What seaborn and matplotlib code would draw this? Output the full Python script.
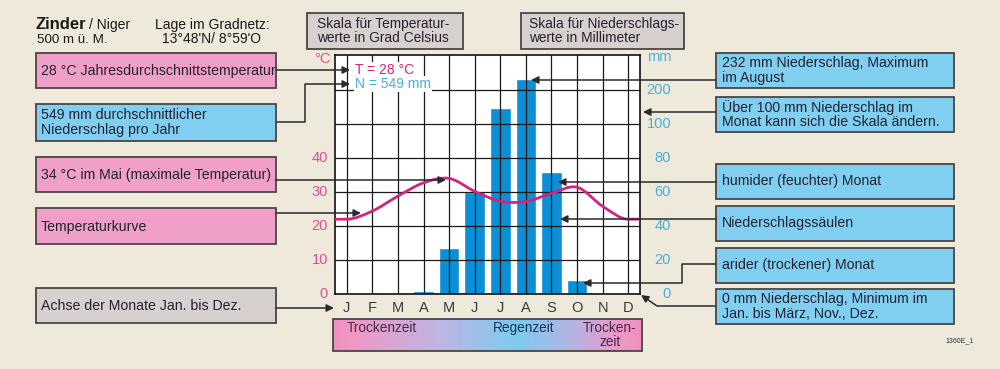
import numpy as np
import matplotlib
matplotlib.use("Agg")
import matplotlib.pyplot as plt
import seaborn as sns
from matplotlib.patches import Rectangle
from matplotlib.path import Path
from matplotlib.patches import PathPatch
from matplotlib.colors import LinearSegmentedColormap
from matplotlib import transforms

# climate data Zinder / Niger
month_keys = ["Jan", "Feb", "Mar", "Apr", "May", "Jun", "Jul", "Aug", "Sep", "Oct", "Nov", "Dec"]
month_letters = ["J", "F", "M", "A", "M", "J", "J", "A", "S", "O", "N", "D"]
precip_mm = [0, 0, 0, 2, 27, 60, 148, 232, 72, 8, 0, 0]
temp_c = [22.0, 24.4, 28.8, 32.7, 34.0, 30.2, 27.3, 27.2, 29.6, 31.4, 25.8, 22.0]
temp_ticks = [0, 10, 20, 30, 40]
precip_ticks = [0, 20, 40, 60, 80, 100, 200]

BG = "#efe9dc"
PINK = "#f0a0c8"
BLUE = "#80cff0"
GRAY = "#d8cfcf"
EDGE = "#4a4444"
LINE = "#2a2a2a"
TEMP_COL = "#d4237f"
TEMP_LBL = "#e04f8c"
MM_LBL = "#46b0de"
BAR_COL = "#0b8fd6"

sns.set_theme(style="white")
plt.rcParams["font.family"] = ["Liberation Sans", "DejaVu Sans"]

W, H = 1000, 369
fig = plt.figure(figsize=(W / 100, H / 100), dpi=100, facecolor=BG)


def fig_box(x0, y0, x1, y1):
    return [x0 / W, 1 - y1 / H, (x1 - x0) / W, (y1 - y0) / H]


# precipitation scale: 20 mm per 10 degC up to 100 mm, compressed above
def fwd(v):
    v = np.asarray(v, dtype=float)
    return np.where(v <= 100, v / 2.0, 50 + (v - 100) / 10.0)


def inv(u):
    u = np.asarray(u, dtype=float)
    return np.where(u <= 50, u * 2.0, 100 + (u - 50) * 10.0)


top_u = 70.3
ax = fig.add_axes(fig_box(335, 55, 640, 294))
ax.set_facecolor("white")
ax.set_yscale("function", functions=(fwd, inv))
sns.barplot(x=month_keys, y=precip_mm, order=month_keys, color=BAR_COL,
            saturation=1, width=0.8, ax=ax)
ax.set_xlim(-0.46, 11.46)
ax.set_ylim(0, float(inv(top_u)))
ax.set_xticks(range(12))
ax.set_xticklabels(month_letters, fontsize=10.5, color="#3a3a3a")
ax.set_yticks(precip_ticks)
ax.set_axisbelow(False)
ax.grid(True, color="#1a1a1a", lw=0.9)
ax.tick_params(length=0, labelleft=False, labelright=False, pad=5)
ax.set_xlabel("")
ax.set_ylabel("")
for s in ax.spines.values():
    s.set_visible(True)
    s.set_color("#111111")
    s.set_linewidth(1.2)

# temperature axis
axt = ax.twinx()
axt.set_ylim(0, top_u)
axt.set_xlim(-0.46, 11.46)
axt.set_yticks([])
for s in axt.spines.values():
    s.set_visible(False)

# smooth temperature curve as bezier path through monthly values
n = len(temp_c)
tang = [0.0] + [(temp_c[i + 1] - temp_c[i - 1]) / 2 for i in range(1, n - 1)] + [0.0]
verts = [(-0.46, temp_c[0]), (0, temp_c[0])]
codes = [Path.MOVETO, Path.LINETO]
for i in range(n - 1):
    verts += [(i + 1 / 3, temp_c[i] + tang[i] / 3),
              (i + 2 / 3, temp_c[i + 1] - tang[i + 1] / 3),
              (i + 1, temp_c[i + 1])]
    codes += [Path.CURVE4] * 3
verts.append((11.46, temp_c[-1]))
codes.append(Path.LINETO)
axt.add_patch(PathPatch(Path(verts, codes), fill=False, edgecolor=TEMP_COL, lw=2, zorder=4))

bl_t = transforms.blended_transform_factory(axt.transAxes, axt.transData)
for v in temp_ticks:
    axt.text(-0.023, v, str(v), transform=bl_t, ha="right", va="center",
             fontsize=10.5, color=TEMP_LBL)
bl_p = transforms.blended_transform_factory(ax.transAxes, ax.transData)
for v in precip_ticks:
    ax.text(1.102, v, str(v), transform=bl_p, ha="right", va="center",
            fontsize=10.5, color=MM_LBL)

# overlay in pixel coordinates
ov = fig.add_axes([0, 0, 1, 1], zorder=10)
ov.axis("off")

band_cmap = LinearSegmentedColormap.from_list(
    "band", [(0, "#f090c0"), (0.07, "#ee98c6"), (0.35, "#bdb6e4"), (0.6, "#7ccbf0"),
             (0.78, "#b6b2e2"), (0.93, "#ec98c6"), (1, "#f090c0")])
ov.imshow(np.linspace(0, 1, 256)[None, :], extent=(333, 642, 351, 319),
          cmap=band_cmap, aspect="auto", zorder=1)
ov.add_patch(Rectangle((333, 319), 309, 32, fill=False, edgecolor=EDGE, lw=1.3, zorder=2))
ov.set_xlim(0, W)
ov.set_ylim(H, 0)

ov.text(347, 328, "Trockenzeit", fontsize=9.8, color="#4a2a4a", va="center")
ov.text(493, 328, "Regenzeit", fontsize=9.8, color="#1a3458", va="center")
ov.text(610, 335, "Trocken-\nzeit", fontsize=9.8, color="#4a2a4a", va="center",
        ha="center", linespacing=1.0)

ov.text(322, 59, "°C", fontsize=10.5, color=TEMP_LBL, ha="center", va="center")
ov.text(659, 57, "mm", fontsize=10.5, color=MM_LBL, ha="center", va="center")
ov.text(355, 70, "T = 28 °C", fontsize=10, color=TEMP_COL, va="center",
        bbox=dict(facecolor="white", edgecolor="none", pad=0.5))
ov.text(355, 84, "N = 549 mm", fontsize=10, color=MM_LBL, va="center",
        bbox=dict(facecolor="white", edgecolor="none", pad=0.5))

# header
ov.text(36, 29, "Zinder", fontsize=12, fontweight="bold", color="#1a1a1a", va="baseline")
ov.text(89, 29, "/ Niger", fontsize=10, color="#1a1a1a", va="baseline")
ov.text(37, 43, "500 m ü. M.", fontsize=9.6, color="#1a1a1a", va="baseline")
ov.text(155, 29, "Lage im Gradnetz:", fontsize=10, color="#1a1a1a", va="baseline")
ov.text(212, 43, "13°48'N/ 8°59'O", fontsize=10, color="#1a1a1a", va="baseline", ha="center")
ov.text(960, 341, "1360E_1", fontsize=5, color="#333333", ha="center", va="center")

boxes = [
    (307, 13, 463, 49, GRAY, "Skala für Temperatur-\nwerte in Grad Celsius", 317, 9.9),
    (521, 13, 684, 49, GRAY, "Skala für Niederschlags-\nwerte in Millimeter", 529, 9.9),
    (36, 53, 276, 88, PINK, "28 °C Jahresdurchschnittstemperatur", 41, 10.2),
    (36, 104, 276, 141, BLUE, "549 mm durchschnittlicher\nNiederschlag pro Jahr", 41, 10.2),
    (36, 157, 276, 192, PINK, "34 °C im Mai (maximale Temperatur)", 41, 10.2),
    (36, 208, 276, 244, PINK, "Temperaturkurve", 41, 10.2),
    (36, 288, 276, 323, GRAY, "Achse der Monate Jan. bis Dez.", 41, 10.2),
    (716, 53, 954, 88, BLUE, "232 mm Niederschlag, Maximum\nim August", 722, 10.2),
    (716, 97, 954, 132, BLUE, "Über 100 mm Niederschlag im\nMonat kann sich die Skala ändern.", 722, 10.2),
    (716, 164, 954, 199, BLUE, "humider (feuchter) Monat", 722, 10.2),
    (716, 206, 954, 241, BLUE, "Niederschlagssäulen", 722, 10.2),
    (716, 248, 954, 283, BLUE, "arider (trockener) Monat", 722, 10.2),
    (716, 289, 954, 324, BLUE, "0 mm Niederschlag, Minimum im\nJan. bis März, Nov., Dez.", 722, 10.2),
]
text_y = {"Temperaturkurve": 227}
for x0, y0, x1, y1, fc, label, tx, fs in boxes:
    ov.add_patch(Rectangle((x0, y0), x1 - x0, y1 - y0, facecolor=fc, edgecolor=EDGE,
                           lw=1.3, zorder=3))
    ty = text_y.get(label, (y0 + y1) / 2)
    ov.text(tx, ty, label, fontsize=fs, color="#222233", va="center", ha="left",
            linespacing=1.05, zorder=4)

# connectors: polyline points, last point is arrow tip
connectors = [
    [(276, 70), (350, 70)],
    [(276, 122), (305, 122), (305, 84), (350, 84)],
    [(276, 180), (446, 180)],
    [(276, 213), (361, 213)],
    [(276, 308), (334, 308)],
    [(716, 80), (531, 80)],
    [(716, 112), (643, 112)],
    [(716, 182), (558, 182)],
    [(716, 219), (560, 219)],
    [(716, 264), (682, 264), (682, 283), (583, 283)],
    [(716, 306), (657, 306), (641, 295)],
]
for pts in connectors:
    xs = [p[0] for p in pts[:-1]]
    ys = [p[1] for p in pts[:-1]]
    if len(pts) > 2:
        ov.plot(xs, ys, color=LINE, lw=1.1, zorder=5, solid_capstyle="butt")
    ov.annotate("", xy=pts[-1], xytext=pts[-2], zorder=5,
                arrowprops=dict(arrowstyle="-|>", color=LINE, lw=1.1,
                                mutation_scale=11, shrinkA=0, shrinkB=0))

fig.savefig("out.png", dpi=100, facecolor=BG)
